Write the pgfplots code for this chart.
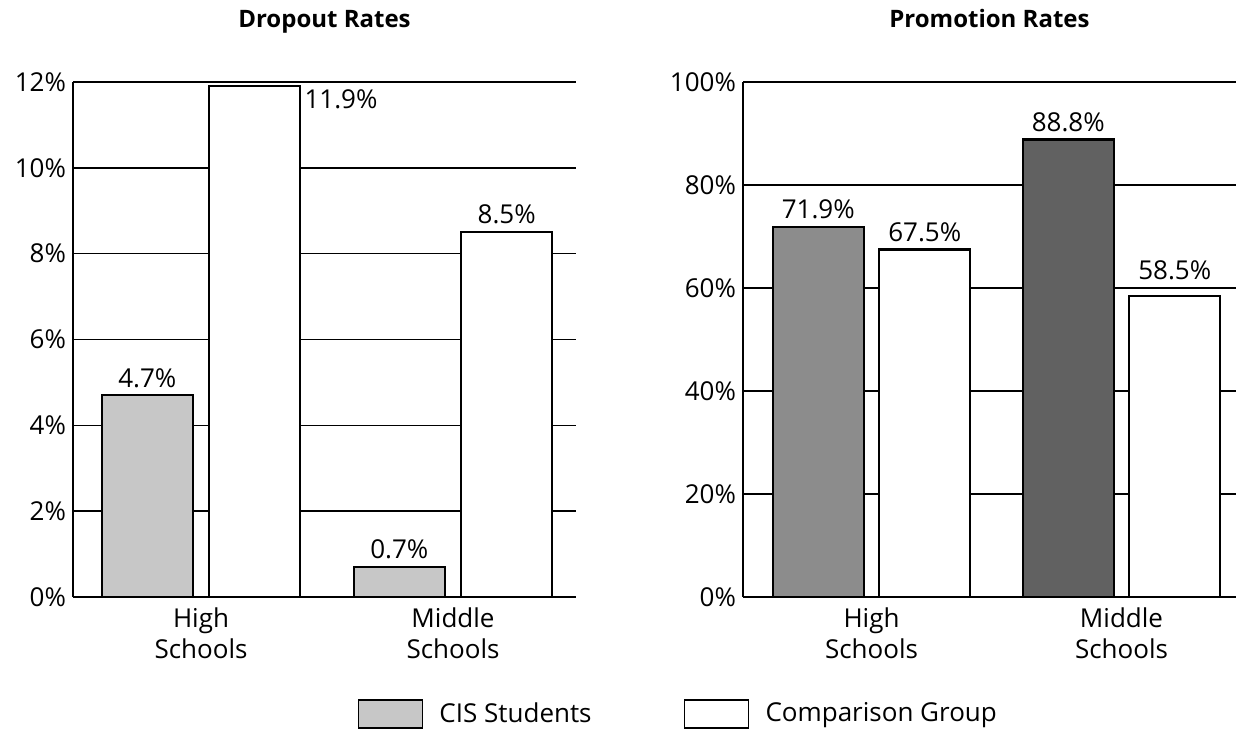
\documentclass[border=0pt]{standalone}
\usepackage{pgfplots}
\pgfplotsset{compat=1.18}
\usepackage{fontspec}
\setmainfont{Open Sans}

\definecolor{cisA}{gray}{0.78}
\definecolor{cisB}{gray}{0.55}
\definecolor{cisC}{gray}{0.38}

\pgfplotsset{
  ratechart/.style={
    scale only axis,
    height=257.5pt,
    ybar,
    axis x line*=bottom,
    axis y line*=left,
    axis line style={line width=1pt,-},
    ymin=0,
    xtick={0,1},
    xticklabels={{High\\Schools},{Middle\\Schools}},
    xticklabel style={align=center,yshift=-2pt},
    major tick length=0pt,
    ymajorgrids,
    grid style={black,line width=0.8pt},
    /pgf/number format/assume math mode=true,
    yticklabel={\pgfmathprintnumber{\tick}\%},
    tick label style={font=\fontsize{13}{15.5}\selectfont},
    title style={font=\fontsize{12}{14}\selectfont\bfseries,anchor=base,yshift=21pt},
    every axis plot/.append style={draw=black,line width=1.2pt},
    nodes near coords={\pgfmathprintnumber[fixed,fixed zerofill,precision=1]{\pgfplotspointmeta}\%},
    every node near coord/.append style={font=\fontsize{13}{15}\selectfont,black},
    clip=false,
  },
}

\begin{document}
\begin{tikzpicture}
\useasboundingbox (-36.5pt,-68.5pt) rectangle (581.5pt,298.5pt);

% Dropout rates
\begin{axis}[ratechart,
  at={(0pt,0pt)}, anchor=south west,
  width=251.5pt,
  title={Dropout Rates},
  xmin=-0.508, xmax=1.488,
  ymax=12, ytick={0,2,...,12},
  bar width=0.361,
  legend style={draw=none,at={(0.565,-0.227)},anchor=west,legend columns=2,
    inner sep=0pt,
    font=\fontsize{13}{15}\selectfont,
    /tikz/every even column/.append style={column sep=44pt}},
  legend image code/.code={\draw[#1,line width=0.7pt] (0pt,-7pt) rectangle (32pt,7pt);
    \path (38pt,0pt);},
  legend cell align=left,
]
\addplot[fill=cisA, bar shift=-0.213] coordinates {(0,4.7) (1,0.7)};
\addplot[fill=white, bar shift=0.213] coordinates {(1,8.5)};
\addplot[fill=white, bar shift=0.213, forget plot,
  every node near coord/.append style={anchor=north west,xshift=21pt,yshift=2pt}]
  coordinates {(0,11.9)};
\legend{CIS Students, Comparison Group}
\end{axis}

% Promotion rates
\begin{axis}[ratechart,
  at={(335pt,0pt)}, anchor=south west,
  width=246.5pt,
  title={Promotion Rates},
  xmin=-0.514, xmax=1.458,
  ymax=100, ytick={0,20,...,100},
  bar width=0.364,
]
\addplot[fill=cisB, bar shift=-0.213] coordinates {(0,71.9)};
\addplot[fill=cisC, bar shift=-0.213] coordinates {(1,88.8)};
\addplot[fill=white, bar shift=0.213] coordinates {(0,67.5)};
\addplot[fill=white, bar shift=0.213,
  every node near coord/.append style={yshift=4pt}] coordinates {(1,58.5)};
\end{axis}
\end{tikzpicture}
\end{document}
